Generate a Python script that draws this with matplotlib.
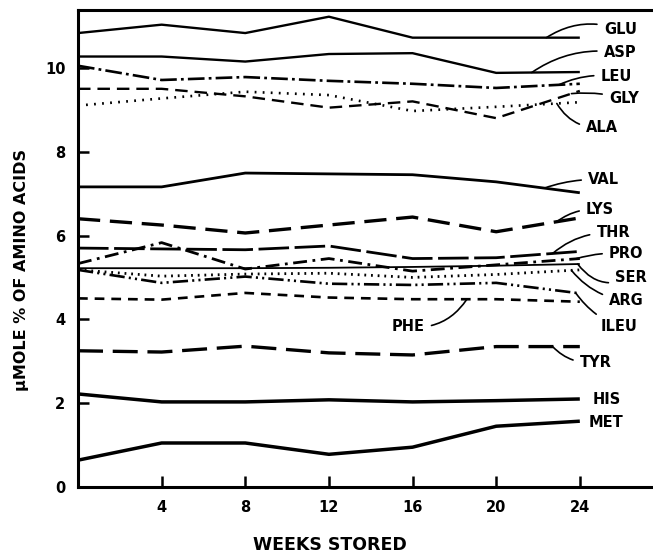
import numpy as np
import matplotlib
matplotlib.use("Agg")
import matplotlib.pyplot as plt

plt.rcParams['font.family'] = ['DejaVu Sans']
plt.rcParams['font.weight'] = 'bold'
plt.rcParams['lines.scale_dashes'] = False

# Weeks stored (sampling points)
weeks = np.array([0, 4, 8, 12, 16, 20, 24])

# micromole % of amino acids
glu = [10.83, 11.03, 10.83, 11.22, 10.72, 10.72, 10.72]
asp = [10.27, 10.27, 10.15, 10.33, 10.35, 9.88, 9.90]
leu = [10.05, 9.71, 9.78, 9.69, 9.62, 9.52, 9.62]
gly = [9.50, 9.50, 9.32, 9.05, 9.20, 8.80, 9.45]
ala = [9.10, 9.27, 9.43, 9.35, 8.97, 9.07, 9.18]
val = [7.16, 7.16, 7.49, 7.47, 7.45, 7.28, 7.02]
lys = [6.40, 6.25, 6.06, 6.25, 6.44, 6.09, 6.42]
thr = [5.70, 5.68, 5.66, 5.75, 5.45, 5.47, 5.62]
pro = [5.33, 5.83, 5.20, 5.45, 5.15, 5.30, 5.45]
ser = [5.22, 5.22, 5.22, 5.23, 5.25, 5.28, 5.32]
arg = [5.18, 5.03, 5.08, 5.10, 5.00, 5.07, 5.18]
ileu = [5.18, 4.87, 5.02, 4.85, 4.82, 4.87, 4.62]
phe = [4.50, 4.47, 4.63, 4.52, 4.48, 4.48, 4.42]
tyr = [3.25, 3.22, 3.36, 3.20, 3.15, 3.35, 3.35]
his = [2.22, 2.03, 2.03, 2.08, 2.03, 2.06, 2.10]
met = [0.64, 1.05, 1.05, 0.78, 0.95, 1.45, 1.57]

# name, values, linewidth, dash pattern (None = solid)
series = [
    ("GLU", glu, 1.7, None),
    ("ASP", asp, 1.7, None),
    ("LEU", leu, 1.9, (12, 3, 2, 3)),
    ("GLY", gly, 1.7, (9, 5)),
    ("ALA", ala, 1.9, (1.3, 4.5)),
    ("VAL", val, 2.0, None),
    ("LYS", lys, 2.4, (16, 7)),
    ("THR", thr, 2.0, (22, 4)),
    ("PRO", pro, 2.0, (10, 4, 2, 4)),
    ("SER", ser, 1.3, None),
    ("ARG", arg, 2.0, (1.3, 3.5)),
    ("ILEU", ileu, 1.9, (11, 3, 1.5, 3, 1.5, 3)),
    ("PHE", phe, 1.9, (7, 5)),
    ("TYR", tyr, 2.4, (18, 7)),
    ("HIS", his, 2.5, None),
    ("MET", met, 2.5, None),
]

# label position (week, value) and week where the leader touches the line
label_pos = {
    "GLU": (25.15, 10.91, 22.4), "ASP": (25.15, 10.36, 21.7),
    "LEU": (25.0, 9.79, 23.0), "GLY": (25.4, 9.26, 23.6),
    "ALA": (24.3, 8.57, 22.9), "VAL": (24.4, 7.33, 22.3),
    "LYS": (24.3, 6.61, 22.9), "THR": (24.8, 6.06, 22.7),
    "PRO": (25.4, 5.56, 23.8), "SER": (25.7, 4.99, 23.9),
    "ARG": (25.4, 4.44, 23.6), "ILEU": (25.0, 3.82, 23.8),
    "PHE": (15.0, 3.82, 18.6), "TYR": (24.0, 2.98, 22.7),
    "HIS": (24.6, 2.08, None), "MET": (24.4, 1.55, None),
}
leader_rad = {"GLU": 0.25, "ASP": 0.2, "LEU": 0.15, "GLY": 0.1, "ALA": -0.3,
              "VAL": 0.1, "LYS": 0.2, "THR": 0.2, "PRO": 0.1, "SER": -0.4,
              "ARG": -0.2, "ILEU": -0.15, "PHE": 0.3, "TYR": -0.25}

fig = plt.figure(figsize=(6.53, 5.55), dpi=100)
ax = fig.add_axes([78 / 653, 68 / 555, 575 / 653, 477 / 555])

for name, vals, lw, dash in series:
    line, = ax.plot(weeks, vals, color="black", lw=lw, solid_capstyle="butt")
    if dash is not None:
        line.set_dashes(dash)
    lx, ly, tw = label_pos[name]
    if tw is None:
        ax.text(lx, ly, name, fontsize=10.5, fontweight="bold", va="center", ha="left")
    else:
        tv = np.interp(tw, weeks, vals)
        ax.annotate(name, xy=(tw, tv), xytext=(lx, ly), fontsize=10.5,
                    fontweight="bold", va="center", ha="left",
                    arrowprops=dict(arrowstyle="-", lw=1.2, color="black",
                                    shrinkA=3, shrinkB=0,
                                    connectionstyle="arc3,rad=%s" % leader_rad[name]))

ax.set_xlim(0, 27.5)
ax.set_ylim(0, 11.38)
ax.set_xticks([4, 8, 12, 16, 20, 24])
ax.set_yticks([0, 2, 4, 6, 8, 10])
ax.tick_params(direction="in", length=8, width=1.8, labelsize=10.5, pad=9)
for lab in ax.get_xticklabels() + ax.get_yticklabels():
    lab.set_fontweight("bold")
for s in ["left", "bottom", "top"]:
    ax.spines[s].set_linewidth(2.2)
ax.spines["right"].set_visible(False)

fig.text(330 / 653, 1 - 545 / 555, "WEEKS STORED", fontsize=12.5, fontweight="bold",
         ha="center", va="center")
fig.text(22 / 653, 1 - 270 / 555, "μMOLE % OF AMINO ACIDS", fontsize=11.5,
         fontweight="bold", rotation=90, ha="center", va="center")

fig.savefig("out.png", dpi=100)
